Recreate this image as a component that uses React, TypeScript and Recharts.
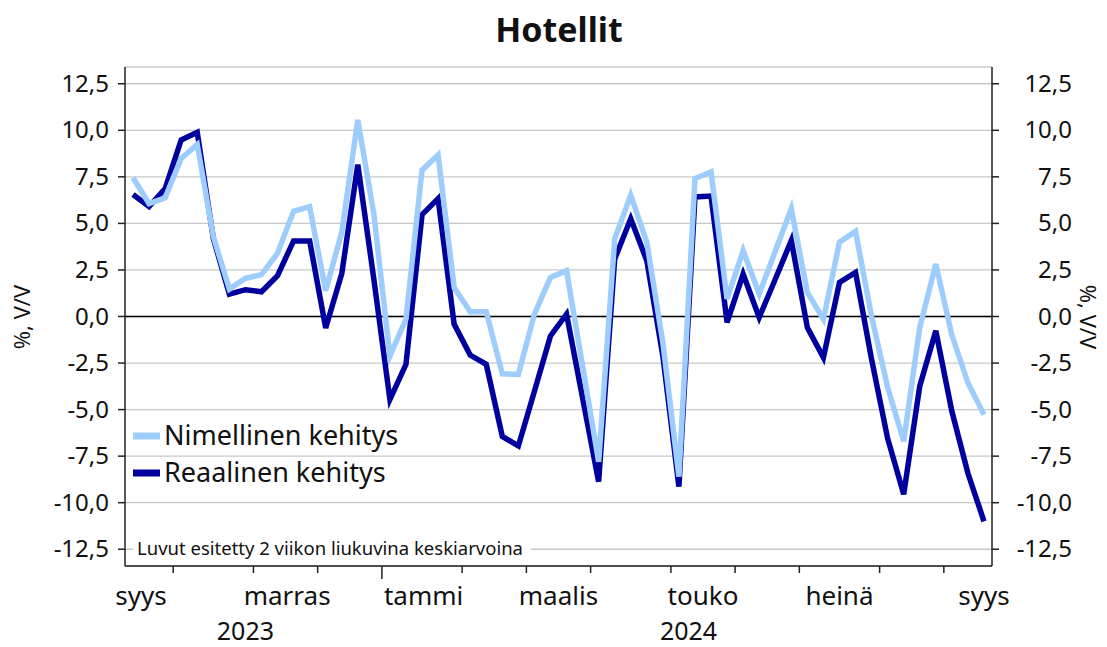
import React from 'react'
import {
  LineChart,
  Line,
  XAxis,
  YAxis,
  CartesianGrid,
  ReferenceLine,
} from 'recharts'

// weeks per month, syys 2023 .. syys 2024
const monthWeeks = [3, 5, 4, 4, 5, 4, 4, 5, 4, 4, 5, 4, 3]
const monthLabels = ['syys', 'marras', 'tammi', 'maalis', 'touko', 'heinä', 'syys']
const monthLabelWeek = [0.5, 9.6, 18.1, 26.5, 35.5, 44, 53]
const yearLabels = ['2023', '2024']
const yearLabelWeek = [7, 34.6]
const yTicks = [-12.5, -10, -7.5, -5, -2.5, 0, 2.5, 5, 7.5, 10, 12.5]

const nimellinen = [
  7.45, 6.06, 6.37, 8.49, 9.24, 4.3, 1.47, 2.05, 2.25, 3.4, 5.65, 5.9, 1.38, 4.53,
  10.56, 5.5, -2.12, -0.14, 7.86, 8.67, 1.56, 0.25, 0.25, -3.08, -3.11, 0.13, 2.1,
  2.46, -2.66, -7.8, 4.17, 6.51, 3.99, -1.4, -8.6, 7.41, 7.77, 0.94, 3.54, 1.21, 3.5,
  5.79, 1.29, -0.14, 3.99, 4.57, 0.0, -3.8, -6.7, -0.59, 2.82, -1.0, -3.56, -5.27,
]
const reaalinen = [
  6.55, 5.9, 6.87, 9.48, 9.89, 4.2, 1.2, 1.44, 1.33, 2.19, 4.06, 4.06, -0.62, 2.3,
  8.15, 2.0, -4.46, -2.57, 5.47, 6.33, -0.41, -2.07, -2.57, -6.44, -6.95, -4.01,
  -1.04, 0.13, -4.37, -8.87, 3.09, 5.25, 3.0, -2.12, -9.14, 6.42, 6.47, -0.32, 2.28,
  -0.05, 2.0, 4.08, -0.59, -2.21, 1.83, 2.37, -2.3, -6.55, -9.55, -3.74, -0.77, -5.09,
  -8.42, -11.0,
]

const data = nimellinen.map((v, i) => ({ i, nimellinen: v, reaalinen: reaalinen[i] }))

// month boundaries (between weeks)
const boundaries: number[] = []
monthWeeks.slice(0, -1).reduce((acc, n) => {
  boundaries.push(acc + n - 0.5)
  return acc + n
}, 0)
const yearBoundary = boundaries[3]

const LIGHT = '#9dcdfd'
const DARK = '#00009e'
const FONT = '"Noto Sans", sans-serif'
const Y_DOMAIN = [-13.4, 13.4]

const XTick = (props: any) => {
  const { x, y, payload } = props
  const v = payload.value
  const yi = yearLabelWeek.indexOf(v)
  if (yi >= 0) {
    return (
      <text x={x} y={y + 73.5} textAnchor="middle" fontSize={25} fill="#111" fontFamily={FONT}>
        {yearLabels[yi]}
      </text>
    )
  }
  const mi = monthLabelWeek.indexOf(v)
  if (mi >= 0) {
    return (
      <text x={x} y={y + 38.5} textAnchor="middle" fontSize={26} fill="#111" fontFamily={FONT}>
        {monthLabels[mi]}
      </text>
    )
  }
  const major = v === yearBoundary
  return <line x1={x} x2={x} y1={y} y2={y + (major ? 13 : 7)} stroke="#222" strokeWidth={1.5} />
}

const fmt = (v: number) => v.toFixed(1).replace('.', ',')

const LeftTick = (props: any) => {
  const { x, y, payload } = props
  return (
    <text x={x} y={y} dy={8} textAnchor="end" fontSize={24} fill="#111" fontFamily={FONT}>
      {fmt(payload.value)}
    </text>
  )
}

const RightTick = (props: any) => {
  const { x, y, payload } = props
  return (
    <text x={x + 71} y={y} dy={8} textAnchor="end" fontSize={24} fill="#111" fontFamily={FONT}>
      {fmt(payload.value)}
    </text>
  )
}

export default function App() {
  return (
    <div style={{ position: 'absolute', left: 0, top: 0, width: 1107, height: 647, background: '#fff' }}>
      <LineChart
        width={1107}
        height={647}
        data={data}
        margin={{ top: 67, right: 0, bottom: 0, left: 0 }}
      >
        <CartesianGrid yAxisId="left" vertical={false} stroke="#c8c8c8" strokeWidth={1.3} />
        <XAxis
          dataKey="i"
          type="number"
          domain={[-0.5, data.length - 0.5]}
          ticks={[...boundaries, ...monthLabelWeek, ...yearLabelWeek]}
          interval={0}
          tickSize={0}
          tickMargin={0}
          tickLine={false}
          tick={<XTick />}
          axisLine={{ stroke: '#222', strokeWidth: 1.5 }}
          height={81}
        />
        <YAxis
          yAxisId="left"
          domain={Y_DOMAIN}
          ticks={yTicks}
          interval={0}
          width={125}
          tickSize={7}
          tickMargin={9}
          tickLine={{ stroke: '#222', strokeWidth: 1.5 }}
          axisLine={{ stroke: '#222', strokeWidth: 1.5 }}
          tick={<LeftTick />}
        />
        <YAxis
          yAxisId="right"
          orientation="right"
          domain={Y_DOMAIN}
          ticks={yTicks}
          interval={0}
          width={115}
          tickSize={7}
          tickMargin={2}
          tickLine={{ stroke: '#222', strokeWidth: 1.5 }}
          axisLine={{ stroke: '#222', strokeWidth: 1.5 }}
          tick={<RightTick />}
        />
        <ReferenceLine yAxisId="left" y={0} stroke="#000" strokeWidth={1.5} />
        <Line
          yAxisId="left"
          dataKey="reaalinen"
          stroke={DARK}
          strokeWidth={5.5}
          dot={false}
          isAnimationActive={false}
        />
        <Line
          yAxisId="right"
          dataKey="nimellinen"
          stroke={LIGHT}
          strokeWidth={5.5}
          dot={false}
          isAnimationActive={false}
        />
      </LineChart>

      {/* titles, legend and note */}
      <svg
        width={1107}
        height={647}
        style={{ position: 'absolute', left: 0, top: 0, pointerEvents: 'none' }}
        fontFamily={FONT}
      >
        <text x={559} y={42} textAnchor="middle" fontSize={34} fontWeight="bold" fill="#111">
          Hotellit
        </text>
        <text
          transform="translate(30 317) rotate(-90)"
          textAnchor="middle"
          fontSize={22}
          fill="#111"
        >
          %, V/V
        </text>
        <text
          transform="translate(1080 317) rotate(90)"
          textAnchor="middle"
          fontSize={22}
          fill="#111"
        >
          %, V/V
        </text>

        <line x1={133} x2={160} y1={436} y2={436} stroke={LIGHT} strokeWidth={7} />
        <text x={164} y={445} fontSize={27} fill="#111">Nimellinen kehitys</text>
        <line x1={133} x2={160} y1={473} y2={473} stroke={DARK} strokeWidth={7} />
        <text x={164} y={482} fontSize={27} fill="#111">Reaalinen kehitys</text>

        <rect x={133} y={539} width={398} height={20} fill="#fff" />
        <text x={137} y={555} fontSize={18.5} fill="#111">
          Luvut esitetty 2 viikon liukuvina keskiarvoina
        </text>
      </svg>
    </div>
  )
}
